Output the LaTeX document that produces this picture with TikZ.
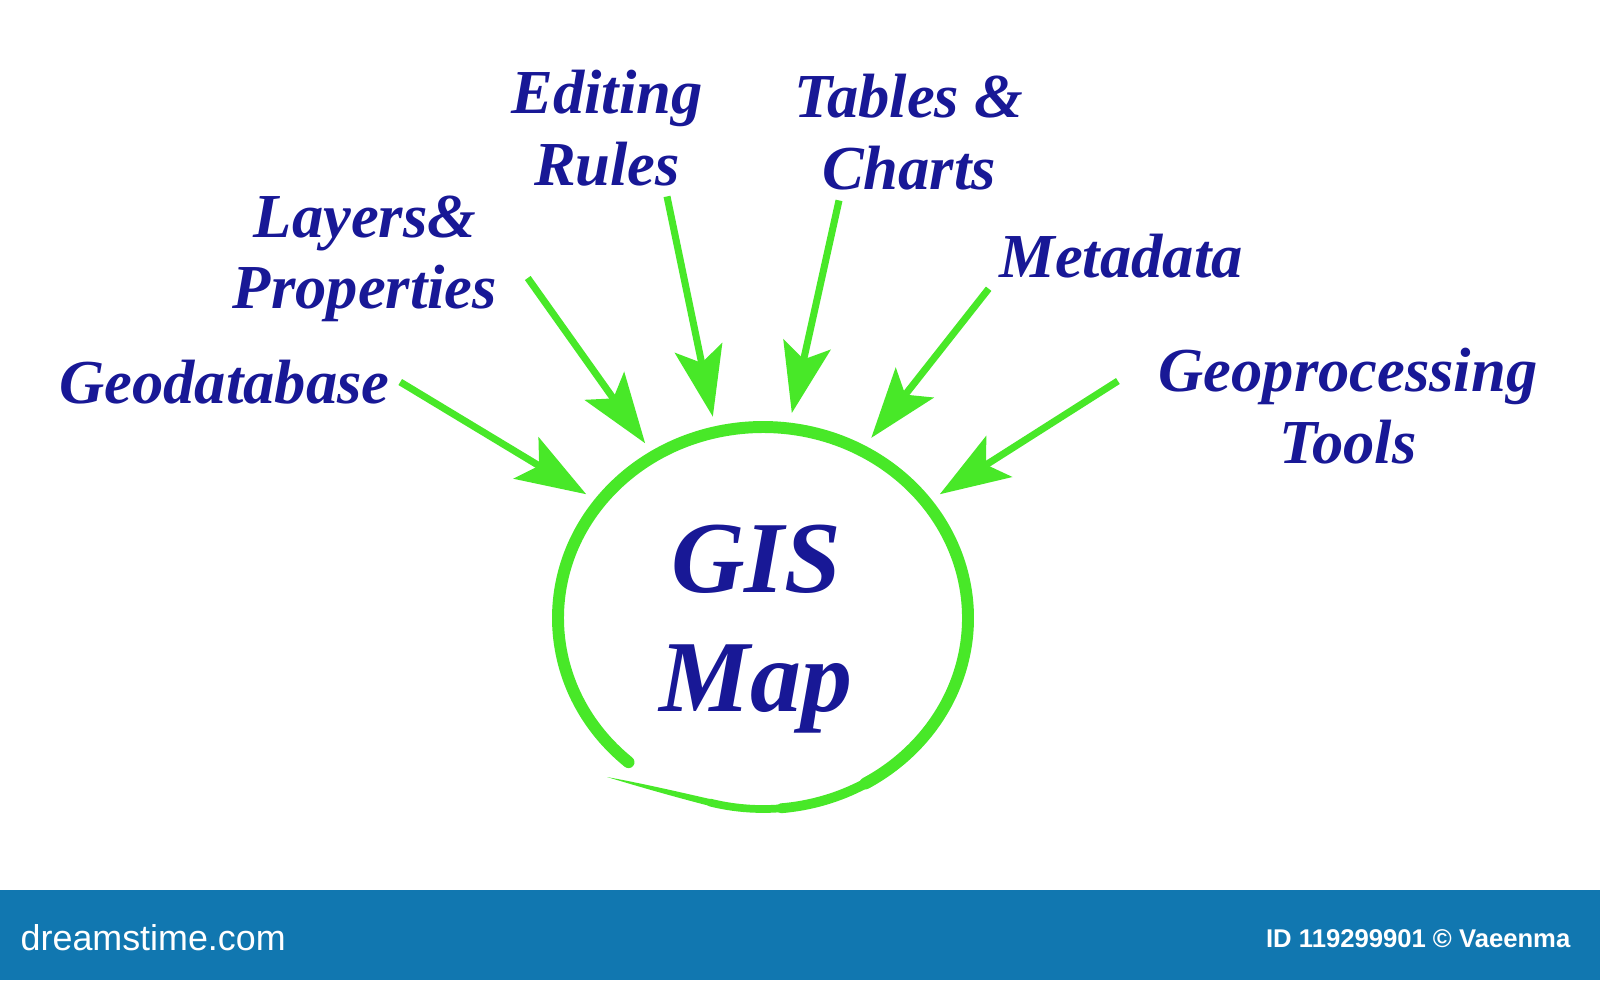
\documentclass[tikz,border=0pt]{standalone}
\usepackage{fontspec}
\setmainfont{Liberation Serif}
\setsansfont{Liberation Sans}
\usepackage{tikz}
\usetikzlibrary{shapes}
\usetikzlibrary {arrows.meta}
\definecolor{gruen}{RGB}{72,232,40}
\definecolor{dunkelblau}{RGB}{24,24,150}
\definecolor{balkenblau}{RGB}{17,119,176}
\tikzset{beschriftung/.style = {
    text = dunkelblau, align = center, inner sep = 1mm,
    font = \fontsize{17.8}{20.3}\selectfont\bfseries\itshape
}}
\tikzset{titel/.style = {
    text = dunkelblau, align = center, inner sep = 1mm,
    font = \fontsize{29}{34}\selectfont\bfseries\itshape
}}
\tikzset{kreis/.style = {
    shape = ellipse, minimum width = 4.4cm,
    minimum height = 4.12cm, inner sep = 0pt
}}
\tikzset{kreislinie/.style = {
    draw = gruen, line width = 3.4pt, line cap = round
}}
\tikzset{pfeil/.style = {
    draw = gruen, line width = 2pt,
    -{Stealth[length = 7mm, width = 4.8mm, inset = 1.5mm]}
}}

\begin{document}
\begin{tikzpicture}
  \useasboundingbox (0,0) rectangle (16,9.8);
  \node (kreis) at (7.63,3.62) [kreis] {};
  \node (gis) at (7.56,3.51) [titel] {GIS\\Map};
  \draw[kreislinie] (kreis.center) ++(229:2.05cm and 1.91cm)
    arc[start angle=229, end angle=-60, x radius=2.05cm, y radius=1.91cm] coordinate (k1);
  \draw[kreislinie, line width=2.8pt] (k1)
    arc[start angle=-60, end angle=-85, x radius=2.05cm, y radius=1.91cm] coordinate (k2);
  \draw[kreislinie, line width=2.2pt] (k2)
    arc[start angle=-85, end angle=-105, x radius=2.05cm, y radius=1.91cm] coordinate (k3);
  \fill[gruen] ([yshift=0.35mm]k3) .. controls (6.75,1.89) and (6.40,1.97) .. (6.07,2.03)
    .. controls (6.40,1.93) and (6.75,1.83) .. ([yshift=-0.35mm]k3) -- cycle;

  \node (geo) at (2.245,5.98) [beschriftung] {Geodatabase};
  \node (lay) at (3.65,7.21) [beschriftung] {Layers\&\\Properties};
  \node (edit) at (6.07,8.52) [beschriftung] {Editing\\Rules};
  \node (tab) at (9.09,8.48) [beschriftung] {Tables \&\\Charts};
  \node (meta) at (11.21,7.24) [beschriftung] {Metadata};
  \node (geop) at (13.48,5.74) [beschriftung] {Geoprocessing\\Tools};

  \draw[pfeil] (geo.east) -- (kreis.145);
  \draw[pfeil] ([shift={(0.2,-0.19)}]lay.east) -- (kreis.124);
  \draw[pfeil] ([xshift=6mm]edit.south) -- (kreis.104);
  \draw[pfeil] ([xshift=-7mm]tab.south) -- (kreis.82);
  \draw[pfeil] (meta.south west) -- (kreis.59);
  \draw[pfeil] ([shift={(-0.3,0.25)}]geop.west) -- (kreis.35);

  \fill[balkenblau] (0,0) rectangle (16,0.9);
  \node (logo) at (0.2,0.30) [anchor=base west, inner sep=0pt, text=white,
    font=\sffamily\fontsize{10.2}{12}\selectfont] {dreamstime.com};
  \node (id) at (15.71,0.33) [anchor=base east, inner sep=0pt, text=white,
    font=\sffamily\bfseries\fontsize{7.3}{9}\selectfont] {ID 119299901 © Vaeenma};
\end{tikzpicture}
\end{document}
